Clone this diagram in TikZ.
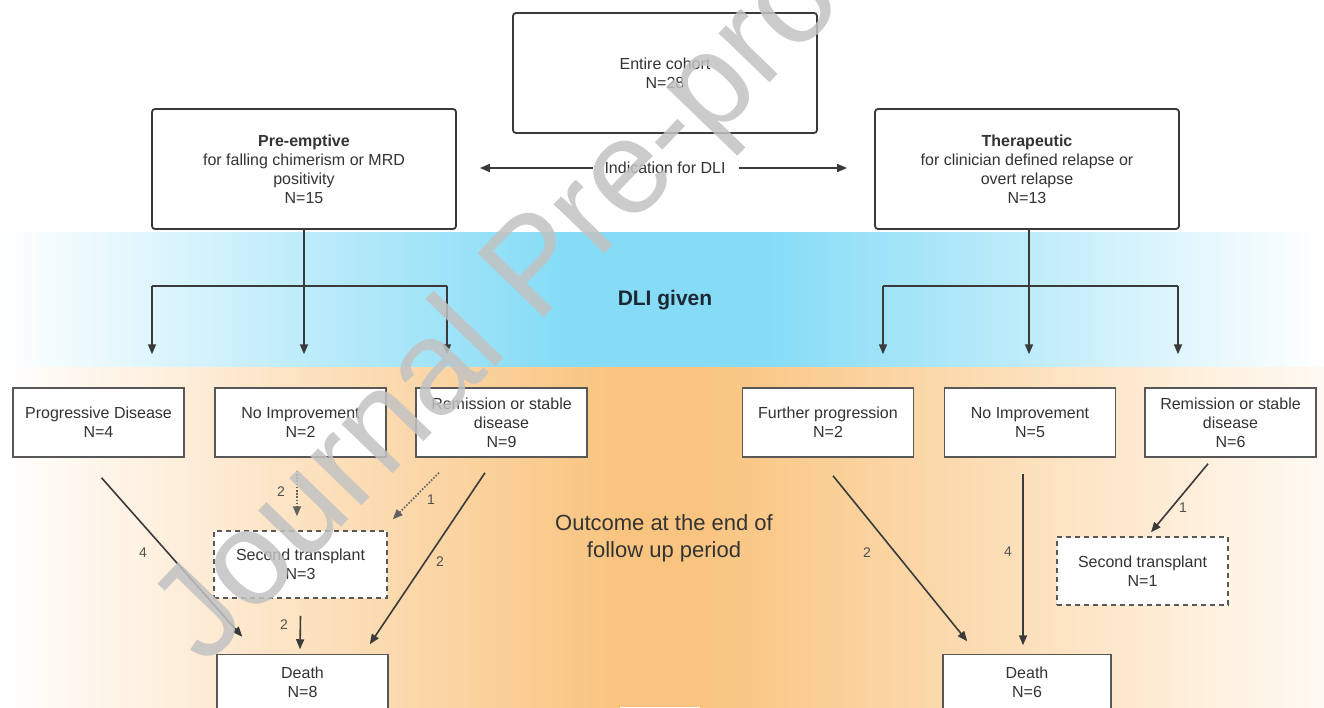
\documentclass[tikz,border=0pt]{standalone}
\usepackage{fontspec}
\setmainfont{Liberation Sans}
\usetikzlibrary{arrows.meta,calc}
\definecolor{txt}{HTML}{333333}
\definecolor{ln}{HTML}{3A3A3A}
\definecolor{cyanc}{HTML}{86DCF6}
\definecolor{orc}{HTML}{F9C47F}
\definecolor{orl}{HTML}{FCEBD6}
\definecolor{orr}{HTML}{FFFAF3}
\definecolor{dlic}{HTML}{1C2833}
\begin{document}
\begin{tikzpicture}[x=1pt,y=-1pt,
  font=\fontsize{16}{19}\selectfont,
  bigbox/.style={draw=ln, line width=1.8pt, rounded corners=3pt, fill=white,
    minimum width=304pt, minimum height=120pt, align=center, inner sep=0pt, text=txt},
  smallbox/.style={draw=ln!85, line width=1.5pt, fill=white,
    minimum width=171pt, minimum height=69pt, align=center, inner sep=0pt, text=txt},
  dashbox/.style={smallbox, dash pattern=on 5pt off 4pt},
  conn/.style={draw=ln, line width=1.8pt},
  arr/.style={draw=ln, line width=1.6pt, -{Triangle[length=10pt,width=8pt]}},
  darr/.style={arr, draw=ln!80, dash pattern=on 1.6pt off 1.6pt},
  lab/.style={font=\fontsize{14}{16}\selectfont, text=txt!85}
]
\useasboundingbox (0,0) rectangle (1324,707);
% backgrounds
\fill[white] (0,0) rectangle (1324,707);
\shade[left color=white, middle color=cyanc!35, right color=cyanc] (0,232) rectangle (560,368);
\fill[cyanc] (559,232) rectangle (771,368);
\shade[left color=cyanc, middle color=cyanc!35, right color=white] (770,232) rectangle (1324,368);
\shade[left color=white, middle color=orl, right color=orc] (0,367) rectangle (620,707);
\fill[orc] (619,367) rectangle (701,707);
\shade[left color=orc, middle color=orc!45!white, right color=orr] (700,367) rectangle (1324,707);

% top boxes
\node[bigbox] (cohort) at (665,73) {Entire cohort\\N=28};
\node[bigbox] (pre) at (304,169) {\textbf{Pre-emptive}\\for falling chimerism or MRD\\positivity\\N=15};
\node[bigbox] (ther) at (1027,169) {\textbf{Therapeutic}\\for clinician defined relapse or\\overt relapse\\N=13};
\node[text=txt] (ind) at (665,168) {Indication for DLI};
\draw[arr, shorten >=23pt] ($(ind.west)+(-8,0)$) -- (pre.east |- ind);
\draw[arr, shorten >=27pt] ($(ind.east)+(10,0)$) -- (ther.west |- ind);

\node[font=\bfseries\fontsize{21}{24}\selectfont, text=dlic] (dli) at (665,300) {DLI given};
\node[font=\fontsize{22}{27}\selectfont, text=txt, align=center] (out) at (664,538) {Outcome at the end of\\follow up period};

% bottom row
\node[smallbox] (prog) at (98.5,422.5) {Progressive Disease\\N=4};
\node[smallbox] (noiL) at (300.5,422.5) {No Improvement\\N=2};
\node[smallbox] (remL) at (501.5,422.5) {Remission or stable\\disease\\N=9};
\node[smallbox] (fur) at (828,422.5) {Further progression\\N=2};
\node[smallbox] (noiR) at (1030,422.5) {No Improvement\\N=5};
\node[smallbox] (remR) at (1230.5,422.5) {Remission or stable\\disease\\N=6};
\node[dashbox, minimum width=173pt, minimum height=67pt] (stL) at (300.5,564.5) {Second transplant\\N=3};
\node[dashbox, minimum height=68pt] (stR) at (1142.5,571) {Second transplant\\N=1};
\node[smallbox, minimum height=55pt] (deathL) at (302.5,682) {Death\\N=8};
\node[smallbox, minimum width=168pt, minimum height=55pt] (deathR) at (1027,682) {Death\\N=6};

% branching left
\coordinate (jL) at (304,286);
\coordinate (hL1) at (152,286);
\coordinate (hL3) at (447,286);
\draw[conn] (pre.south) -- (jL);
\draw[conn] (hL1) -- (hL3);
\draw[arr, shorten >=33pt] (hL1) -- (hL1 |- prog.north);
\draw[arr, shorten >=33pt] (jL) -- (jL |- noiL.north);
\draw[arr, shorten >=33pt] (hL3) -- (hL3 |- remL.north);
% branching right
\coordinate (jR) at (1029,286);
\coordinate (hR1) at (883,286);
\coordinate (hR3) at (1178,286);
\draw[conn] (ther.south -| jR) -- (jR);
\draw[conn] (hR1) -- (hR3);
\draw[arr, shorten >=33pt] (hR1) -- (hR1 |- fur.north);
\draw[arr, shorten >=33pt] (jR) -- (jR |- noiR.north);
\draw[arr, shorten >=33pt] (hR3) -- (hR3 |- remR.north);

% outcomes left
\draw[arr] ($(prog.south)+(3,20)$) -- ($(deathL.north west)+(26,-17)$);
\draw[darr] ($(noiL.south)+(-3.5,13)$) -- ($(stL.north)+(-3.5,-14)$);
\draw[darr] ($(remL.south)+(-62.5,15)$) -- ($(stL.north east)+(5,-11)$);
\draw[arr] ($(remL.south)+(-16.5,15)$) -- ($(deathL.north east)+(-19,-9.5)$);
\draw[arr] ($(stL.south)+(0,17)$) -- ($(deathL.north)+(-2.5,-4.5)$);
% outcomes right
\draw[arr] ($(fur.south)+(5,18)$) -- ($(deathR.north west)+(25,-12.5)$);
\draw[arr] ($(noiR.south)+(-7,16)$) -- ($(deathR.north)+(-4,-8.5)$);
\draw[arr] ($(remR.south)+(-22.5,6)$) -- ($(stR.north)+(8.5,-4)$);

% counts
\node[lab] (c1) at (143,553) {4};
\node[lab] (c2) at (281,492) {2};
\node[lab] (c3) at (431,500) {1};
\node[lab] (c4) at (440,562) {2};
\node[lab] (c5) at (284,625) {2};
\node[lab] (c6) at (867,553) {2};
\node[lab] (c7) at (1008,552) {4};
\node[lab] (c8) at (1183,508) {1};

% watermark
\node[rotate=46, anchor=base west, inner sep=0pt, font=\fontsize{134}{134}\selectfont,
  text=black!24, opacity=0.85] (wm) at (205,668) {Journal Pre-proof};
\end{tikzpicture}
\end{document}
